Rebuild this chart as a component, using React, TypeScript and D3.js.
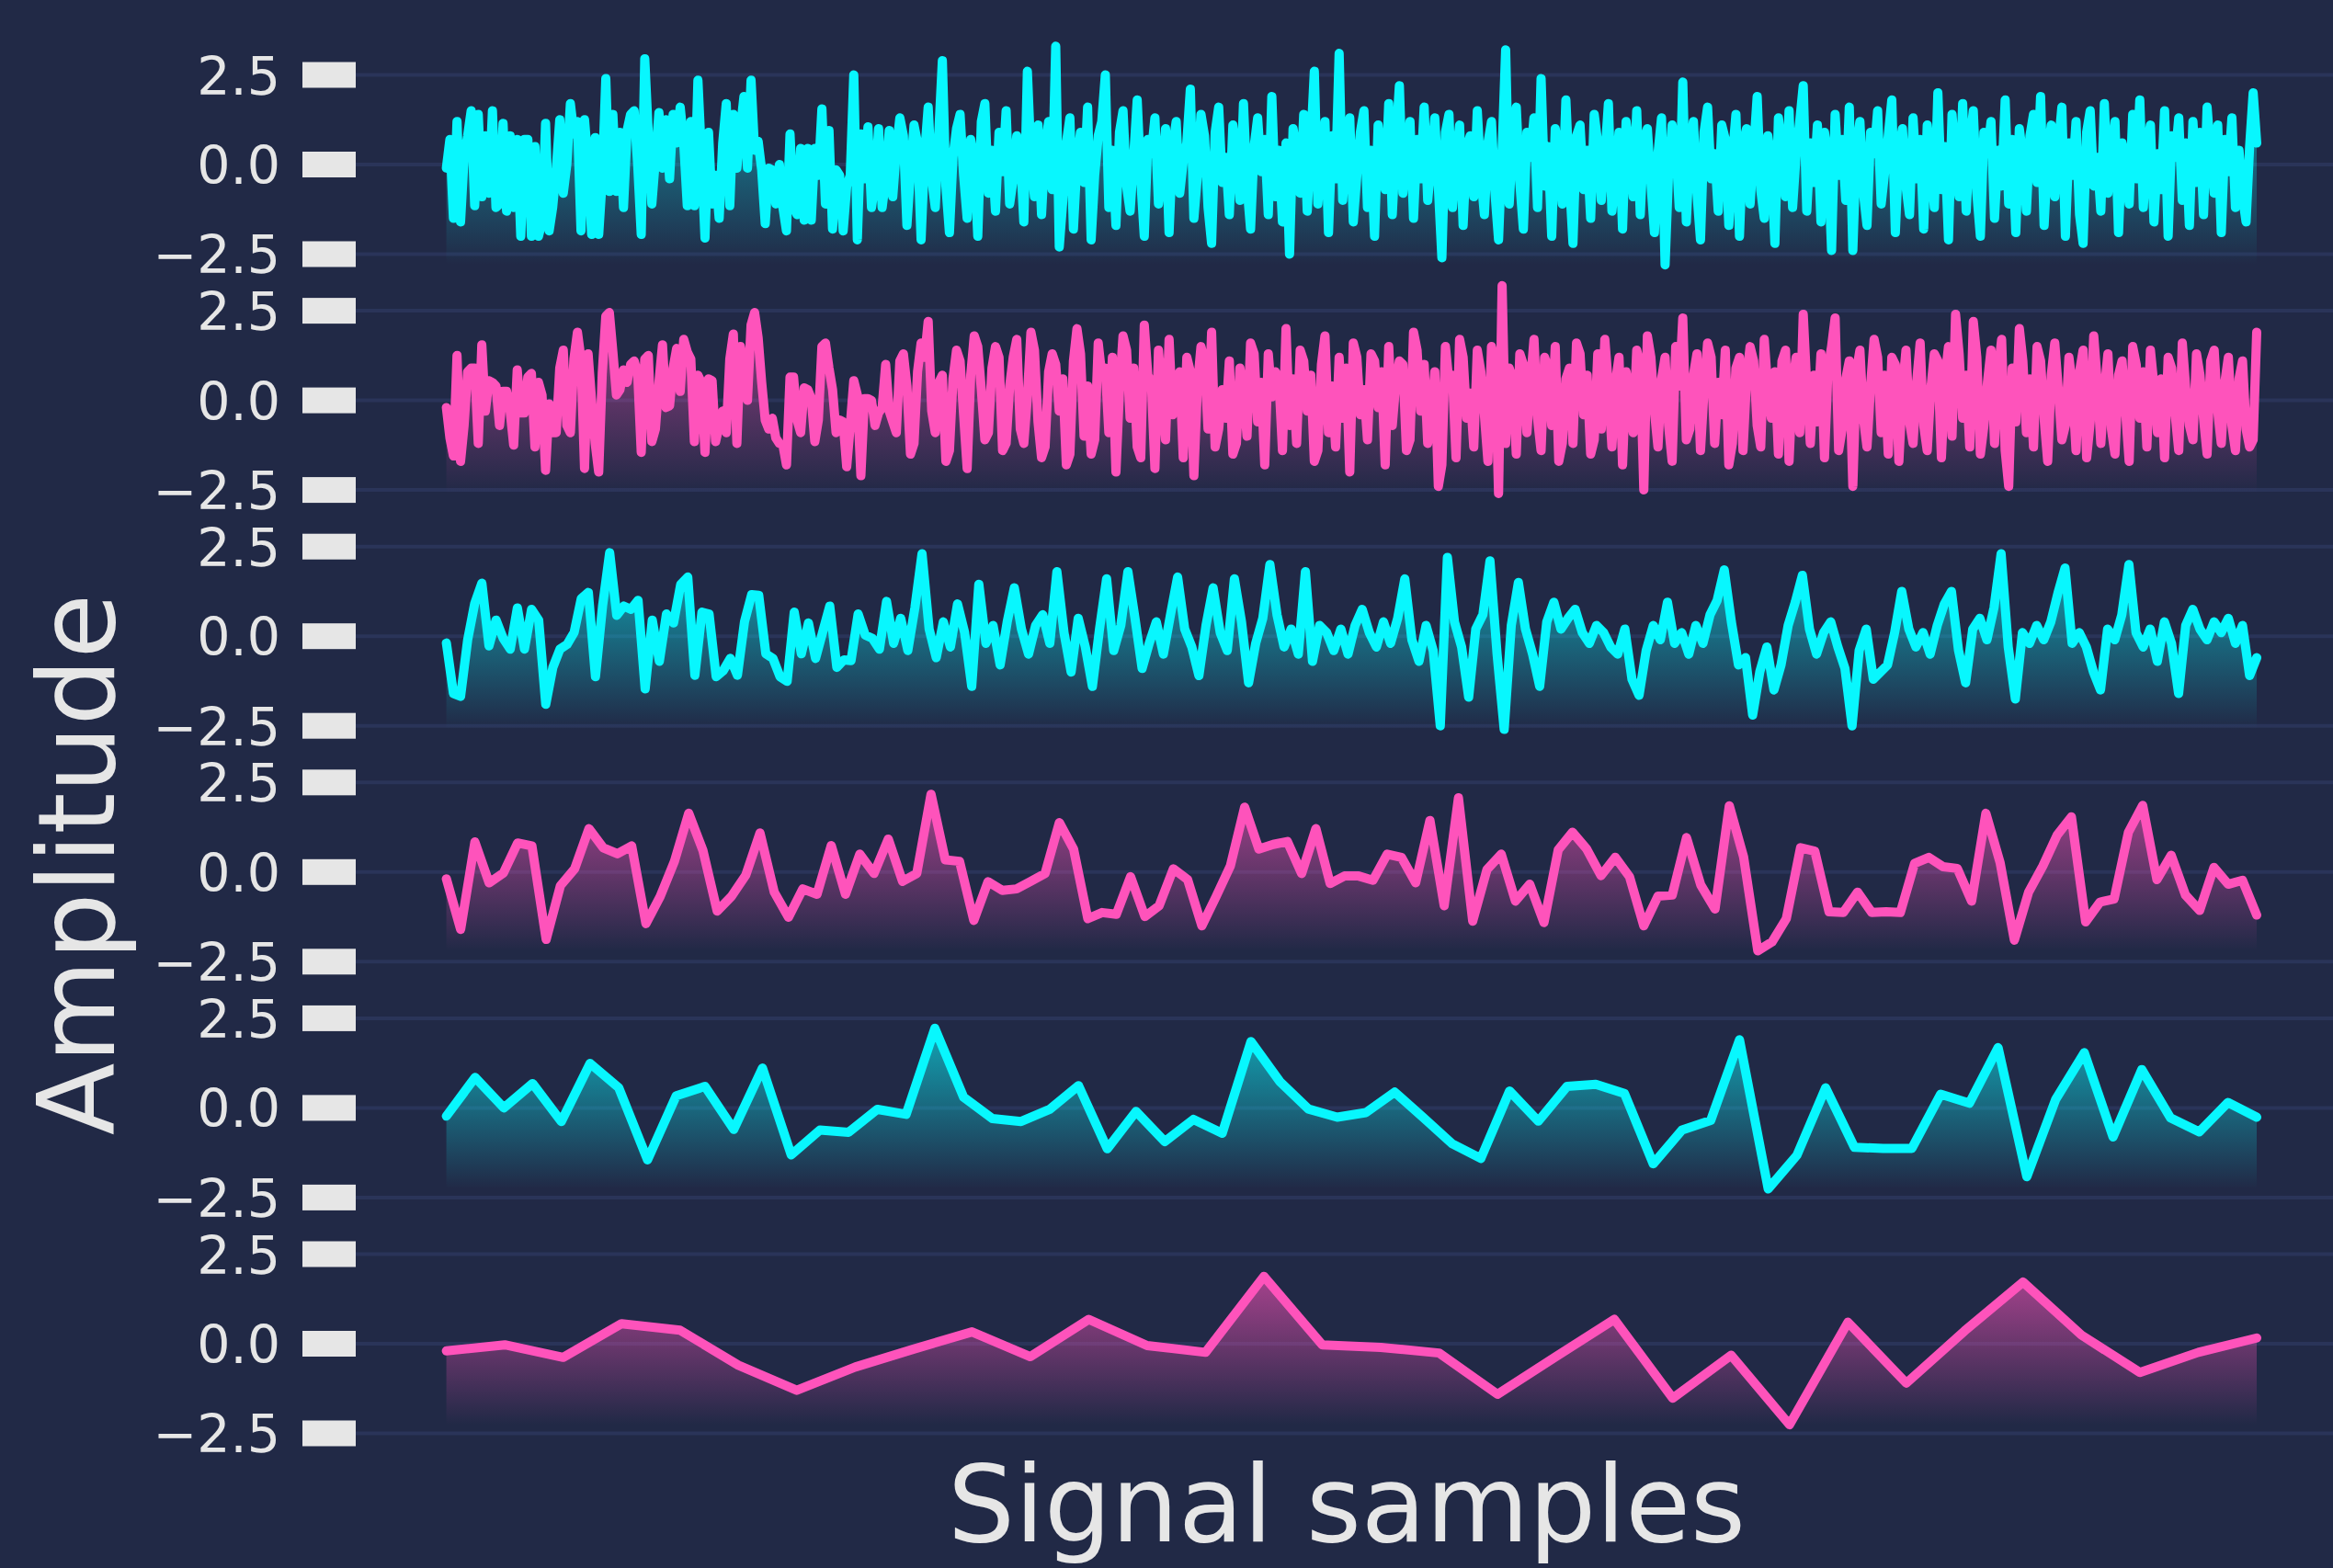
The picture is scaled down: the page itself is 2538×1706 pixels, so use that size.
import React from 'react';
import * as d3 from 'd3';

// ---------------- data ----------------
const signal1: number[] = [
  -0.1, 0.7, -1.5, 1.2, -1.6, 0.2, 0.8, 1.5, -1.15, 1.4, -0.9, 0.8, -0.8, 1.5, -1.2, -1.1,
  1.15, -1.3, 0.8, -1.2, 0.7, -2.0, 0.7, 0.7, -2.0, 0.5, -2.0, -1.6, 1.15, -1.85, -1.2, -0.15,
  1.25, -0.8, 0.0, 1.7, 0.85, 1.2, -1.85, 1.25, 0.0, -1.95, 0.75, -1.95, -0.4, 2.4, -0.75, 1.4,
  -0.75, 0.9, -1.2, 0.95, 1.4, 1.5, 0.0, -1.95, 2.95, 0.85, -1.1, 0.15, 1.45, -0.1, 1.25, -0.4,
  1.4, 0.6, 1.6, 0.6, -1.15, 1.2, -1.15, 2.35, 0.25, -2.05, 0.9, -1.1, -0.3, -1.5, 0.6, 1.7,
  -1.15, 1.4, -0.1, 1.0, 1.9, -0.1, 2.35, 0.4, 0.65, -0.15, -1.65, -0.1, -0.15, -1.1, 0.0, -1.2,
  -1.85, 0.85, -1.2, -1.4, 0.45, -1.55, 0.45, -1.55, 0.45, -0.3, 1.55, -1.1, 0.95, -1.8, -0.15, -0.3,
  -1.85, -0.6, -0.3, 2.5, -2.1, 0.85, -0.4, 1.05, -1.2, -0.5, 1.0, -1.2, -0.4, 0.95,
  -0.9, 0.4, 1.3, 0.8, -1.7, -0.2, 1.1, 0.6, -2.1, 0.3, 1.6, -0.4, -1.2, 0.9, 2.9, -0.6,
  -1.9, 0.2, 1.0, 1.4, -0.3, -1.5, 0.7, 0.1, -2.0, 1.2, 1.7, -0.8, 0.4, -1.3, 0.9, -0.2,
  1.5, -1.1, -0.4, 0.8, 0.3, -1.6, 2.6, 0.2, -0.9, 1.1, -1.4, 0.5, 1.2, -0.7, 3.3, -2.3,
  -1.0, 0.6, 1.3, -1.8, 0.1, 0.9, -0.5, 1.6, -2.1, -0.3, 0.8, 1.2, 2.5, -1.2, 0.4, -1.7,
  0.9, 1.5, -0.6, -1.3, 0.2, 1.8, -0.4, -2.0, 0.7, 0.3, 1.3, -1.1, -0.2, 1.0, -1.9, 0.5,
  1.2, -0.8, 0.1, 0.6, 2.1, -1.5, -0.3, 1.4, 0.8, -1.2, -2.2, 0.9, 1.6, -0.5, 0.2, -1.4,
  1.1, 0.3, -1.0, 1.7, -0.6, -1.8, 0.5, 1.3, -0.2, 0.7, -1.4, 1.9, -0.9, 0.4, -1.6, 0.6,
  -2.5, 1.0, 0.3, -0.8, 1.4, -1.3, 0.6, 2.6, -1.1, 0.2, 1.2, -1.9, 0.8, -0.4, 3.1, -1.0,
  0.5, 1.3, -1.6, -0.3, 0.9, 1.5, -1.2, 0.4, -2.0, 1.1, 0.2, -0.7, 1.7, -1.4, 0.6, 2.2,
  -0.8, 0.3, 1.2, -1.5, 0.7, -0.4, 1.6, -1.0, 0.1, 1.3, -0.6, -2.6, 0.9, 1.4, -1.2, 0.2,
  1.1, -1.7, 0.5, 0.8, -0.9, 1.5, -0.3, -1.4, 0.6, 1.2, -0.8, -2.1, 0.4, 3.2, -1.1, 0.7,
  1.6, -0.5, -1.8, 0.9, 0.2, 1.3, -1.2, 2.4, -0.6, 0.5, -2.0, 1.0, 0.3, -1.1, 1.8, -0.4,
  -2.2, 0.8, 1.1, -0.7, 0.4, -1.5, 1.4, 0.6, -1.0, 0.2, 1.7, -1.3, -0.3, 0.9, -1.8, 1.2,
  0.4, -0.9, 1.5, -1.4, 0.7, 1.0, -0.5, -1.9, 0.3, 1.3, -2.8, -0.2, 1.1, 0.6, -1.2, 2.3,
  -1.6, 0.5, 1.2, -0.8, -2.1, 0.9, 1.6, -0.4, 0.3, -1.3, 1.1, 0.7, -1.7, 0.2, 1.4, -2.0,
  0.6, 1.0, -1.1, 0.4, 1.9, -0.7, -1.5, 0.8, 0.1, -2.2, 1.3, 0.5, -0.9, 1.5, -1.2, 0.3,
  1.2, 2.2, -1.3, 0.6, -0.5, 1.1, -1.6, 0.9, 0.2, -2.4, 1.4, -0.3, 0.7, -1.0, 1.6, -2.4,
  0.5, 1.2, -0.8, -1.7, 0.9, 0.3, 1.5, -1.1, -0.2, 0.8, 1.8, -1.9, 0.4, 1.0, -0.6, -1.4,
  1.3, -0.4, 0.7, -1.8, 1.1, 0.2, -1.2, 2.0, -0.7, 0.5, -2.1, 1.4, 0.1, -0.9, 1.7, -1.3,
  0.6, 1.5, -0.8, -2.0, 0.9, 0.3, 1.2, -1.5, 0.4, -0.6, 1.8, -1.1, 0.7, -1.9, 1.0, 0.2,
  -1.3, 0.8, 1.4, -0.5, 1.9, -1.7, 0.3, 1.1, -0.9, 0.5, 1.6, -2.0, 0.6, -0.3, 1.2, -1.4,
  -2.2, 0.9, 1.5, -0.6, 0.2, -1.3, 1.7, -0.8, 0.4, 1.2, -1.9, 0.6, 0.1, -1.1, 1.4, -0.4,
  1.8, -1.2, 0.5, 1.1, -1.6, 0.3, -0.7, 1.5, -2.0, 0.8, 0.2, 1.3, -1.0, 0.6, -1.7, 1.2,
  -0.5, 0.9, -1.4, 1.6, 0.3, -0.8, 1.1, -1.9, 0.7, -0.2, 1.3, -1.2, 0.4, -0.9, -1.6, 0.5, 2.0, 0.6,
];

const signal2: number[] = [
  -0.2, -1.05, -1.55, 1.25, -1.7, -0.7, 0.8, 0.9, 0.9, -1.2, 1.55, -0.3, 0.55, 0.5, 0.4, -0.7,
  0.25, 0.25, -0.3, -1.25, 0.85, -0.35, -0.35, 0.65, 0.75, -1.3, 0.5, 0.15, -1.95, -0.1, -0.9, -0.9,
  0.9, 1.4, -0.7, -0.9, 1.15, 1.9, 1.15, -1.9, 1.3, 0.0, -1.2, -2.0, 0.75, 2.35, 2.45, 1.35,
  0.15, 0.3, 0.85, 0.5, 1.0, 1.1, 0.75, -1.45, 1.15, 1.25, -1.15, -0.8, 0.5, 1.55, -0.2, -0.15,
  0.9, 1.45, 0.25, 1.7, 1.35, 1.15, -1.15, 0.7, 0.5, -1.45, 0.6, 0.55, -1.15, -0.7, -0.3, -0.9,
  1.15, 1.85, -1.2, 1.5, 0.9, 0.0, 2.1, 2.45, 1.75, 0.5, -0.55, -0.8, -0.5, -1.05, -1.2, -1.25,
  -1.8, 0.65, 0.65, -0.55, -0.9, 0.35, 0.3, 0.05, -1.15, -0.55, 1.5, 1.6, 0.9, 0.3, -0.9, -0.55,
  -0.6, -1.85, -0.7, 0.55, 0.15, -2.1, 0.05, 0.05, 0.0, -0.7, -0.35, -0.2, 1.0, -0.3,
  -0.6, -0.9, 1.1, 1.3, 0.4, -1.5, -1.2, 0.8, 1.6, 1.2, 2.2, -0.3, -0.9, 0.5, 0.7, -1.7,
  -1.4, 0.6, 1.4, 1.1, -0.4, -1.9, 0.7, 1.8, 1.5, 0.3, -1.1, -0.9, 0.9, 1.5, 1.2, -1.4,
  -1.2, 0.4, 1.2, 1.7, -0.8, -1.2, 0.1, 1.9, 1.4, -0.6, -1.6, -1.3, 0.8, 1.3, 1.0, -0.3,
  0.6, -1.8, -1.5, 1.1, 2.0, 1.3, -1.0, 0.4, -1.5, -1.1, 1.6, 0.7, 0.9, -0.9, 1.2, -2.0,
  0.3, 1.8, 1.4, -0.5, 0.9, -1.3, -1.6, 2.1, 0.7, 0.5, -1.9, 1.4, 0.2, -1.1, 1.7, -0.4,
  0.6, 0.8, -1.6, 1.2, 0.8, -2.1, 0.4, 1.5, 1.1, -0.8, 1.9, -1.3, -0.8, 0.3, -0.5, 1.1,
  -1.5, -1.2, 0.9, 0.2, -1.0, 1.6, 1.3, -0.6, 0.5, -1.8, 1.3, 0.1, 0.8, 0.6, -1.4, 2.0,
  -0.7, 0.6, -1.2, 1.4, 1.1, -0.3, 0.7, -1.7, -1.4, 1.0, 1.8, -0.9, 0.4, -1.3, 1.2, -0.5,
  0.9, -2.0, 1.6, 1.2, -0.4, 0.3, -1.1, 1.3, 1.1, -0.2, 0.8, -1.8, 1.5, -0.7, 0.5, 1.1,
  1.0, -1.4, -1.1, 1.9, 1.4, -0.3, 1.0, -1.2, -0.4, 0.8, -2.4, -1.8, 1.5, 0.5, 0.7, -1.6,
  1.7, 1.2, -0.5, 0.2, -1.3, 1.4, 0.8, -0.4, -1.7, 1.5, 1.1, -2.6, 3.2, -1.2, 0.9, 0.6,
  -1.5, 1.3, 1.0, -0.9, 0.5, 1.7, -0.5, -1.4, 1.2, 0.9, -0.7, 1.5, -1.7, -1.2, 0.6, 0.9,
  -1.2, 1.6, 1.3, -0.4, 0.7, -1.5, -1.1, 1.3, -0.8, 1.7, 0.4, -1.3, 0.5, 1.2, -1.8, 0.8,
  0.2, -0.9, 1.4, 1.0, -2.5, 1.8, 1.2, -0.3, -1.3, 0.6, 1.2, -0.7, -1.7, 1.5, 0.4, 2.3,
  -1.1, -0.8, 0.7, 1.3, -1.4, 0.3, 1.6, 1.2, -1.2, 0.5, -0.4, 1.4, -1.8, -1.2, 0.9, 1.2,
  -1.4, 0.6, 1.5, 1.1, -0.7, -1.3, 1.7, 0.3, -0.5, 0.8, -1.5, 1.1, 1.4, -1.7, 0.5, 1.2,
  -0.9, 2.4, 0.4, -1.2, 0.7, -0.6, 1.3, -1.6, 0.9, 1.5, 2.3, -1.4, -0.8, 0.6, 1.1, -2.4,
  0.8, 1.4, -0.5, -1.3, 0.4, 1.7, 1.2, -0.9, 0.7, -1.5, 1.2, 1.0, -1.7, 0.3, 1.4, -0.6,
  -1.2, 0.5, 1.6, -0.7, -1.4, 0.3, 1.3, 1.1, -1.6, 0.6, 1.5, -1.0, 2.4, 1.3, -0.5, 0.7,
  -1.3, 2.2, 1.2, -1.5, -0.7, 0.5, 1.4, -1.2, 0.8, 1.7, -1.4, -2.4, 0.9, -0.6, 2.0, 1.1,
  -0.9, 0.6, -1.3, 1.5, 1.1, -0.5, -1.7, 0.7, 1.6, 0.3, -1.1, -0.7, 1.2, 0.4, -1.4, 0.8,
  1.4, -1.6, -0.6, 1.8, 0.5, -1.2, 0.3, 1.3, -0.8, -1.5, 0.7, 1.1, -0.3, -1.7, 1.5, 1.0,
  -0.5, 0.8, -1.3, 1.4, 0.4, -0.9, 0.6, -1.6, 1.2, 0.9, -0.4, -1.4, 1.6, 0.3, -0.7, -1.1,
  1.3, 0.7, -0.5, -1.5, 1.1, 1.4, -0.3, -1.2, 0.5, 1.2, -0.7, -1.4, 0.6, 1.1, -0.8, -1.3, -1.1, 1.9,
];

const signal3: number[] = [
  -0.19, -1.6, -1.68, -0.1, 0.92, 1.48, -0.27, 0.45, -0.06, -0.36, 0.79, -0.36, 0.75, 0.45, -1.9, -0.87,
  -0.36, -0.23, 0.11, 1.05, 1.22, -1.13, 0.84, 2.33, 0.58, 0.84, 0.75, 1.0, -1.47, 0.45, -0.7, 0.62,
  0.37, 1.44, 1.65, -1.09, 0.67, 0.62, -1.13, -0.96, -0.62, -1.09, 0.41, 1.16, 1.14, -0.49, -0.62, -1.13,
  -1.26, 0.67, -0.49, 0.37, -0.62, 0.11, 0.84, -0.87, -0.66, -0.68, 0.62, 0.03, -0.06, -0.36, 0.97,
  -0.2, 0.5, -0.4, 0.8, 2.3, 0.2, -0.6, 0.4, -0.3, 0.9, 0.1, -1.4, 1.45, -0.2, 0.3, -0.8,
  0.4, 1.35, 0.2, -0.5, 0.3, 0.6, -0.2, 1.8, 0.1, -1.0, 0.5, -0.3, -1.4, 0.2, 1.6, -0.4,
  0.3, 1.8, 0.5, -0.9, -0.2, 0.4, -0.5, 0.6, 1.65, 0.2, -0.3, -1.1, 0.3, 1.35, 0.1, -0.4,
  1.6, 0.4, -1.3, -0.2, 0.5, 2.0, 0.6, -0.3, 0.2, -0.5, 1.8, -0.7, 0.3, 0.1, -0.4, 0.2,
  -0.5, 0.3, 0.75, 0.1, -0.3, 0.4, -0.2, 0.5, 1.6, -0.1, -0.7, 0.3, -0.4, -2.5, 2.2, 0.4,
  -0.3, -1.7, 0.2, 0.6, 2.1, -0.5, -2.6, 0.3, 1.5, 0.2, -0.5, -1.4, 0.4, 0.95, 0.2, 0.5,
  0.75, 0.1, -0.2, 0.3, 0.1, -0.3, -0.5, 0.2, -1.2, -1.65, -0.4, 0.3, -0.1, 0.95, -0.2, 0.1,
  -0.5, 0.3, -0.2, 0.6, 1.0, 1.85, 0.4, -0.8, -0.6, -2.2, -1.0, -0.3, -1.5, -0.8, 0.3, 0.95,
  1.7, 0.2, -0.5, 0.1, 0.4, -0.3, -0.9, -2.5, -0.4, 0.2, -1.2, -1.0, -0.8, 0.1, 1.25, 0.2,
  -0.3, 0.1, -0.5, 0.3, 0.9, 1.25, -0.4, -1.3, 0.2, 0.5, -0.1, 0.8, 2.3, -0.3, -1.75, 0.1,
  -0.2, 0.3, -0.1, 0.4, 1.2, 1.9, -0.2, 0.1, -0.3, -1.0, -1.5, 0.2, -0.1, 0.6, 2.0, 0.1,
  -0.3, 0.2, -0.7, 0.4, -0.2, -1.6, 0.3, 0.75, 0.2, -0.1, 0.4, 0.1, 0.5, -0.2, 0.3, -1.1,
  -0.6,
];

const signal4: number[] = [
  -0.19, -1.6, 0.84, -0.3, -0.03, 0.81, 0.73, -1.88, -0.38, 0.09, 1.21, 0.68, 0.51, 0.73, -1.44, -0.68,
  0.3, 1.64, 0.6, -1.09, -0.68, -0.09, 1.09, -0.56, -1.26, -0.47, -0.62, 0.74, -0.62, 0.5, -0.04, 0.92,
  -0.26, -0.04, 2.17, 0.34, 0.3, -1.35, -0.27, -0.51, -0.47, -0.26, -0.04, 1.38, 0.64,
  -1.3, -1.13, -1.18, -0.13, -1.24, -0.94, 0.09, -0.21, -1.5, -0.68, 0.17, 1.81, 0.64, 0.77, 0.85, -0.04,
  1.21, -0.32, -0.11, -0.11, -0.23, 0.5, 0.41, -0.3, 1.44, -0.94, 2.07, -1.37, 0.07, 0.5, -0.81, -0.34,
  -1.41, 0.62, 1.11, 0.64, -0.1, 0.41, -0.13, -1.5, -0.67,
  -0.64, 0.96, -0.36, -1.03, 1.85, 0.43, -2.2, -1.95, -1.3, 0.68, 0.58, -1.11, -1.13, -0.56, -1.13, -1.11,
  -1.13, 0.24, 0.41, 0.15, 0.1, -0.81, 1.64, 0.26, -1.9, -0.56, 0.17, 1.03, 1.54, -1.39, -0.84, -0.75,
  1.11, 1.86, -0.21, 0.47, -0.64, -1.07, 0.13, -0.34, -0.23, -1.2,
];

const signal5: number[] = [
  -0.23, 0.85, 0.0, 0.68, -0.38, 1.24, 0.56, -1.45, 0.34, 0.6, -0.6, 1.11, -1.31, -0.62, -0.68, -0.04,
  -0.18, 2.22, 0.3, -0.3, -0.38, -0.04, 0.62, -1.14, -0.1, -0.94, -0.32, -0.71, 1.85, 0.74, -0.03, -0.26,
  -0.13, 0.44, -0.27, -1.0, -1.41, 0.47, -0.37, 0.6, 0.66, 0.4, -1.56, -0.62, -0.35, 1.9, -2.26, -1.32,
  0.56, -1.1, -1.13, -1.13, 0.38, 0.13, 1.68, -1.92, 0.23, 1.54, -0.81, 1.07, -0.28, -0.67, 0.15, -0.26,
];

const signal6: number[] = [
  -0.2, -0.03, -0.38, 0.56, 0.38, -0.6, -1.3, -0.65, -0.15, 0.33, -0.36, 0.68, -0.05, -0.24, 1.88, -0.03,
  -0.1, -0.26, -1.41, -0.36, 0.68, -1.52, -0.32, -2.26, 0.6, -1.1, 0.36, 1.72, 0.24, -0.8, -0.24, 0.16,
];

const seriesList: number[][] = [signal1, signal2, signal3, signal4, signal5, signal6];
const seriesColors: string[] = ['#08F7FE', '#FE53BB', '#08F7FE', '#FE53BB', '#08F7FE', '#FE53BB'];
const yTickValues: number[] = [2.5, 0, -2.5];
const yTickLabels: string[] = ['2.5', '0.0', '\u22122.5'];
const xLabelText = 'Signal samples';
const yLabelText = 'Amplitude';

// ---------------- layout / style ----------------
const W = 2538;
const H = 1706;
const BG = '#212946';
const GRID = '#2A3459';
const TEXT = '#E6E6E6';
const FONT = '"DejaVu Sans", sans-serif';

const PANEL_PITCH = 256.6;
const FIRST_ZERO = 179;
const Y_HALF = 3.29;
const X_START = 485.6;
const X_END = 2455;
const AXIS_LEFT = 387;

export default function App() {
  React.useEffect(() => {
    document.body.style.margin = '0';
  }, []);

  const panels = seriesList.map((data, k) => {
    const zero = FIRST_ZERO + k * PANEL_PITCH;
    const top = zero - PANEL_PITCH / 2;
    const y = d3.scaleLinear().domain([-Y_HALF, Y_HALF]).range([top + PANEL_PITCH, top]);
    const x = d3.scaleLinear().domain([0, data.length - 1]).range([X_START, X_END]);
    const lo = d3.min(data) as number;
    const hi = d3.max(data) as number;
    const area = d3
      .area<number>()
      .x((_, i) => x(i))
      .y0(y(lo))
      .y1((d) => y(d));
    const line = d3
      .line<number>()
      .x((_, i) => x(i))
      .y((d) => y(d));
    return { k, y, lo, hi, areaD: area(data) || '', lineD: line(data) || '', color: seriesColors[k] };
  });

  const midY = (panels[0].y(Y_HALF) + panels[panels.length - 1].y(-Y_HALF)) / 2;

  return (
    <svg
      width={W}
      height={H}
      viewBox={`0 0 ${W} ${H}`}
      style={{ position: 'absolute', left: 0, top: 0, display: 'block' }}
      fontFamily={FONT}
    >
      <defs>
        {panels.map((p) => (
          <linearGradient
            key={`g${p.k}`}
            id={`grad${p.k}`}
            gradientUnits="userSpaceOnUse"
            x1={0}
            x2={0}
            y1={p.y(p.hi)}
            y2={p.y(p.lo)}
          >
            <stop offset="0" stopColor={p.color} stopOpacity={0.6} />
            <stop offset="1" stopColor={p.color} stopOpacity={0} />
          </linearGradient>
        ))}
      </defs>
      <rect x={0} y={0} width={W} height={H} fill={BG} />

      {panels.map((p) => (
        <g key={`p${p.k}`}>
          {yTickValues.map((t, j) => (
            <g key={`t${j}`}>
              <line x1={AXIS_LEFT} x2={W} y1={p.y(t)} y2={p.y(t)} stroke={GRID} strokeWidth={4} />
              <rect x={329} y={p.y(t) - 14} width={58} height={28} fill={TEXT} />
              <text x={305} y={p.y(t) + 21} textAnchor="end" fontSize={57} fill={TEXT}>
                {yTickLabels[j]}
              </text>
            </g>
          ))}
          <path d={p.areaD} fill={`url(#grad${p.k})`} stroke="none" />
          <path
            d={p.lineD}
            fill="none"
            stroke={p.color}
            strokeWidth={10}
            strokeLinejoin="round"
            strokeLinecap="round"
          />
        </g>
      ))}

      <text
        transform={`translate(124, ${midY + 120}) rotate(-90)`}
        textAnchor="middle"
        fontSize={115}
        fill={TEXT}
      >
        {yLabelText}
      </text>
      <text x={1465} y={1677} textAnchor="middle" fontSize={115} fill={TEXT}>
        {xLabelText}
      </text>
    </svg>
  );
}
